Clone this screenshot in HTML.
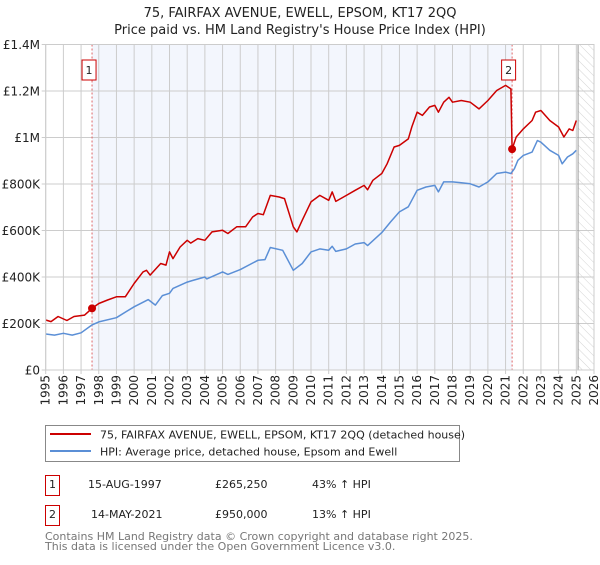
<!DOCTYPE html>
<html><head><meta charset="utf-8"><style>
body{margin:0;background:#fff;font-family:"Liberation Sans","DejaVu Sans",sans-serif}
svg text{font-family:"DejaVu Sans","Liberation Sans",sans-serif}
</style></head><body>
<svg id="c" width="600" height="560" xmlns="http://www.w3.org/2000/svg">
<defs><pattern id="hatch" width="6" height="6" patternUnits="userSpaceOnUse" patternTransform="rotate(-45)"><line x1="0" y1="0" x2="0" y2="6" stroke="#d4d4d4" stroke-width="1"/></pattern></defs>
<text x="300" y="17" text-anchor="middle" font-size="13" fill="#222">75, FAIRFAX AVENUE, EWELL, EPSOM, KT17 2QQ</text>
<text x="300" y="34" text-anchor="middle" font-size="13" fill="#222">Price paid vs. HM Land Registry's House Price Index (HPI)</text>
<g id="plot"></g>
<g>
<rect x="45.5" y="425.5" width="414" height="36" fill="#fff" stroke="#888"/>
<line x1="50" y1="434" x2="91" y2="434" stroke="#cc0000" stroke-width="2"/>
<text x="100" y="438.5" font-size="11" fill="#222">75, FAIRFAX AVENUE, EWELL, EPSOM, KT17 2QQ (detached house)</text>
<line x1="50" y1="451" x2="91" y2="451" stroke="#5b8fd6" stroke-width="2"/>
<text x="100" y="455.5" font-size="11" fill="#222">HPI: Average price, detached house, Epsom and Ewell</text>
</g>
<g font-size="11" fill="#222">
<rect x="45.5" y="475.5" width="14" height="20" fill="#fff" stroke="#c00"/>
<text x="52.5" y="488" text-anchor="middle">1</text>
<text x="88" y="488">15-AUG-1997</text><text x="215" y="488">£265,250</text><text x="312" y="488">43% ↑ HPI</text>
<rect x="45.5" y="505.5" width="14" height="20" fill="#fff" stroke="#c00"/>
<text x="52.5" y="518" text-anchor="middle">2</text>
<text x="91" y="518">14-MAY-2021</text><text x="215" y="518">£950,000</text><text x="312" y="518">13% ↑ HPI</text>
</g>
<text x="45" y="540" font-size="11" fill="#777">Contains HM Land Registry data © Crown copyright and database right 2025.</text>
<text x="45" y="550" font-size="11" fill="#777">This data is licensed under the Open Government Licence v3.0.</text>
</svg>
<script>
const hpiYears=[1995,1995.5,1996,1996.5,1997,1997.6,1998,1999,2000,2000.8,2001.2,2001.6,2002,2002.2,2003,2003.3,2004,2004.1,2005,2005.3,2006,2007,2007.4,2007.7,2008.4,2009,2009.5,2010,2010.5,2011,2011.2,2011.4,2012,2012.5,2013,2013.2,2014,2014.5,2015,2015.5,2016,2016.5,2017,2017.2,2017.5,2018,2018.5,2019,2019.5,2020,2020.5,2021,2021.3,2021.5,2021.7,2022,2022.5,2022.8,2023,2023.5,2024,2024.2,2024.5,2024.8,2025];
const hpiValues=[155,150,158,150,160,193,207,225,272,303,279,320,330,351,378,385,400,392,422,411,432,472,475,527,515,429,458,508,521,515,532,510,521,542,548,535,591,637,680,702,773,787,794,766,809,809,805,801,787,809,845,851,845,866,902,923,937,987,980,945,923,887,916,930,945];
const salesYears=[1995,1995.3,1995.7,1996.2,1996.6,1997.2,1997.62,1998,1998.5,1999,1999.5,2000,2000.5,2000.7,2000.9,2001.5,2001.8,2002,2002.2,2002.6,2003,2003.2,2003.6,2004,2004.4,2005,2005.3,2005.8,2006.3,2006.7,2007,2007.3,2007.7,2008.2,2008.5,2009,2009.2,2009.5,2010,2010.5,2011,2011.2,2011.4,2012,2012.5,2013,2013.2,2013.5,2014,2014.3,2014.7,2015,2015.5,2015.7,2016,2016.3,2016.7,2017,2017.2,2017.5,2017.8,2018,2018.5,2019,2019.5,2020,2020.5,2021,2021.3,2021.37,2021.6,2022,2022.5,2022.7,2023,2023.5,2024,2024.3,2024.6,2024.8,2025];
const salesValues=[215,208,230,213,230,236,265,286,301,315,315,372,422,429,408,458,451,508,479,529,558,546,565,558,594,601,587,616,616,658,673,668,751,744,737,616,594,644,723,751,730,766,725,751,773,794,775,816,845,887,959,966,994,1045,1109,1095,1131,1138,1109,1152,1173,1152,1159,1152,1123,1159,1202,1224,1209,950,1002,1037,1073,1109,1116,1073,1045,1002,1037,1030,1073];
const saleYears=[1997.62,2021.37];
const saleValues=[265.25,950];
const saleLabels=["1","2"];
const yTicks=[0,200,400,600,800,1000,1200,1400];
const yTickLabels=["£0","£200K","£400K","£600K","£800K","£1M","£1.2M","£1.4M"];
const xTicks=[1995,1996,1997,1998,1999,2000,2001,2002,2003,2004,2005,2006,2007,2008,2009,2010,2011,2012,2013,2014,2015,2016,2017,2018,2019,2020,2021,2022,2023,2024,2025,2026];

const X0=45.7,X1=594,Y0=370,Y1=44.5;
const xs=y=>X0+(y-1995)/(2026-1995)*(X1-X0);
const ys=v=>Y0-v/1400*(Y0-Y1);
const NS="http://www.w3.org/2000/svg";
const g=document.getElementById('plot');
function mk(t,a,p){const e=document.createElementNS(NS,t);for(const k in a)e.setAttribute(k,a[k]);(p||g).appendChild(e);return e;}
let e;
e=mk('rect',{x:xs(saleYears[0]),y:Y1,width:xs(saleYears[1])-xs(saleYears[0]),height:Y0-Y1,fill:'#f3f6fd'});


e=mk('rect',{x:xs(2025.1),y:Y1,width:X1-xs(2025.1),height:Y0-Y1,fill:'url(#hatch)'});


xTicks.forEach((t,i)=>{
 e=mk('line',{x1:xs(t),x2:xs(t),y1:Y1,y2:Y0+4,stroke:'#ccc','stroke-width':1});
 
 
 const x=xs(t)+4;
 e=mk('text',{x:0,y:0,transform:`translate(${x},375) rotate(-90)`,'text-anchor':'end','font-size':12,fill:'#222'});
 e.textContent=t;
 
 
});
yTicks.forEach((t,i)=>{
 e=mk('line',{x1:X0-4,x2:X1,y1:ys(t),y2:ys(t),stroke:'#ccc','stroke-width':1});
 
 
 e=mk('text',{x:40,y:ys(t)+4.5,'text-anchor':'end','font-size':12,fill:'#222'});
 e.textContent=yTickLabels[i];
 
 
});
e=mk('line',{x1:xs(2025.1),x2:xs(2025.1),y1:Y1,y2:Y0,stroke:'#999','stroke-width':1});


saleYears.forEach((y,i)=>{
 e=mk('line',{x1:xs(y),x2:xs(y),y1:Y1,y2:Y0,stroke:'#e06666','stroke-width':1,'stroke-dasharray':'2,2'});
 
 
});
function pts(a,b){return a.map((y,i)=>xs(y).toFixed(1)+','+ys(b[i]).toFixed(1)).join(' ');}
e=mk('polyline',{points:pts(hpiYears,hpiValues),fill:'none',stroke:'#5b8fd6','stroke-width':1.5,'stroke-linejoin':'round'});


e=mk('polyline',{points:pts(salesYears,salesValues),fill:'none',stroke:'#cc0000','stroke-width':1.5,'stroke-linejoin':'round'});


saleYears.forEach((y,i)=>{
 e=mk('circle',{cx:xs(y),cy:ys(saleValues[i]),r:4,fill:'#cc0000'});
 
 
 const bx=xs(y)-(i==0?3:3.5);
 e=mk('rect',{x:bx-7,y:60,width:14,height:20,fill:'#fff',stroke:'#c00'});
 
 
 e=mk('text',{x:bx,y:74,'text-anchor':'middle','font-size':11,fill:'#222'});
 e.textContent=saleLabels[i];
 
 
});
e=mk('rect',{x:X0,y:Y1,width:X1-X0,height:Y0-Y1,fill:'none',stroke:'#ccc'});


</script>
</body></html>
